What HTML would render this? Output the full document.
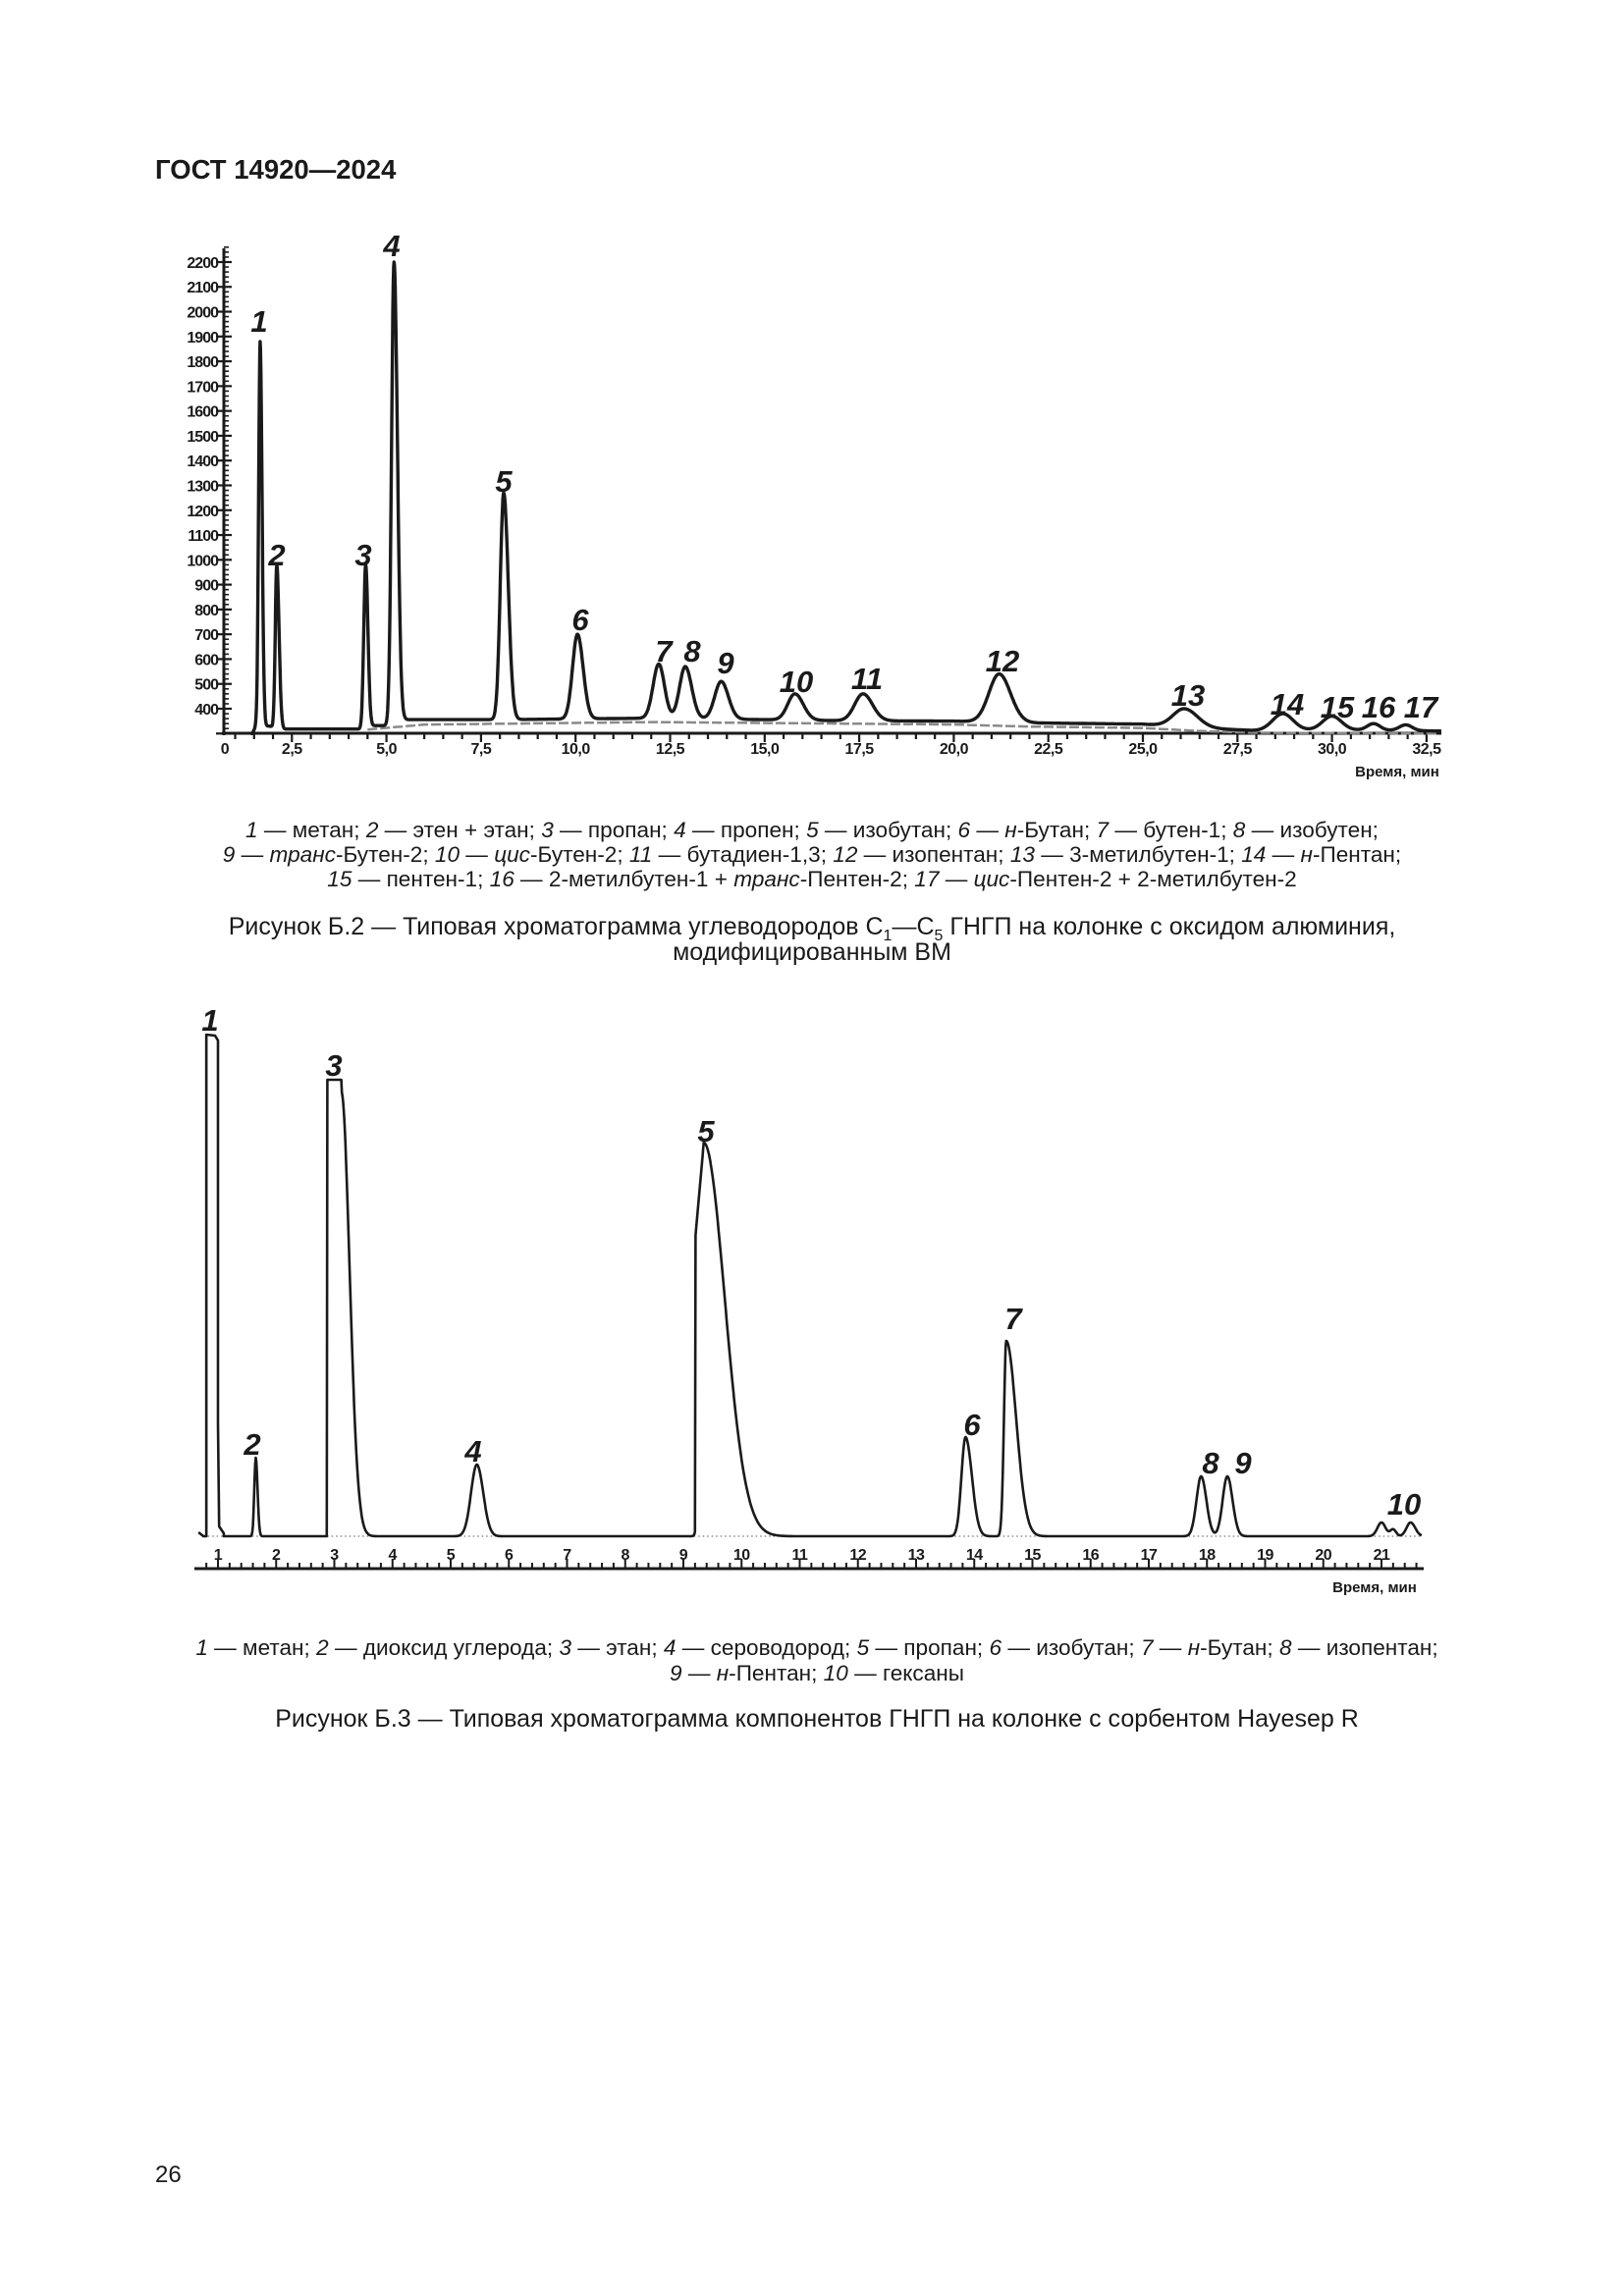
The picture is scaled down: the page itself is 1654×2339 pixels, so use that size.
<!DOCTYPE html>
<html><head><meta charset="utf-8">
<style>
html,body{margin:0;padding:0;background:#fff;}
svg{display:block;}
text{font-family:"Liberation Sans",sans-serif;fill:#1a1a1a;}
.cap{font-size:22.6px;}
.ttl{font-size:25px;}
.pk{font-size:31px;font-weight:bold;font-style:italic;text-anchor:middle;}
.yl{font-size:16px;font-weight:bold;text-anchor:end;letter-spacing:-1px;}
.xl{font-size:16px;font-weight:bold;text-anchor:middle;letter-spacing:-0.5px;}
</style></head>
<body>
<svg id="s" width="1654" height="2339" viewBox="0 0 1654 2339" xmlns="http://www.w3.org/2000/svg">
<text x="158" y="182" style="font-size:27.5px;font-weight:bold;">ГОСТ 14920—2024</text>

<g id="c1ax" stroke="#1a1a1a" fill="none"></g>
<path id="c1gray" fill="none" stroke="#8a8a8a" stroke-width="2.5" stroke-dasharray="10 3"/>
<path id="c1" fill="none" stroke="#1a1a1a" stroke-width="3.4" stroke-linejoin="round"/>
<g id="c1yl"></g>
<g id="c1xl"></g>
<text x="1423" y="791" style="font-size:15px;font-weight:bold;text-anchor:middle;">Время, мин</text>

<g class="pk">
<text x="264" y="338">1</text><text x="282" y="576">2</text><text x="370" y="576">3</text>
<text x="399" y="261">4</text><text x="513" y="501">5</text><text x="591" y="642">6</text>
<text x="676" y="674">7</text><text x="705" y="674">8</text><text x="739" y="686">9</text>
<text x="811" y="705">10</text><text x="883" y="702">11</text><text x="1021" y="684">12</text>
<text x="1210" y="719">13</text><text x="1311" y="728">14</text><text x="1362" y="731">15</text>
<text x="1404" y="731">16</text><text x="1447" y="731">17</text>
</g>

<text class="cap" x="827" y="853" text-anchor="middle"><tspan font-style="italic">1</tspan> — метан; <tspan font-style="italic">2</tspan> — этен + этан; <tspan font-style="italic">3</tspan> — пропан; <tspan font-style="italic">4</tspan> — пропен; <tspan font-style="italic">5</tspan> — изобутан; <tspan font-style="italic">6</tspan> — <tspan font-style="italic">н</tspan>-Бутан; <tspan font-style="italic">7</tspan> — бутен-1; <tspan font-style="italic">8</tspan> — изобутен;</text>
<text class="cap" x="827" y="878" text-anchor="middle"><tspan font-style="italic">9</tspan> — <tspan font-style="italic">транс</tspan>-Бутен-2; <tspan font-style="italic">10</tspan> — <tspan font-style="italic">цис</tspan>-Бутен-2; <tspan font-style="italic">11</tspan> — бутадиен-1,3; <tspan font-style="italic">12</tspan> — изопентан; <tspan font-style="italic">13</tspan> — 3-метилбутен-1; <tspan font-style="italic">14</tspan> — <tspan font-style="italic">н</tspan>-Пентан;</text>
<text class="cap" x="827" y="903" text-anchor="middle"><tspan font-style="italic">15</tspan> — пентен-1; <tspan font-style="italic">16</tspan> — 2-метилбутен-1 + <tspan font-style="italic">транс</tspan>-Пентен-2; <tspan font-style="italic">17</tspan> — <tspan font-style="italic">цис</tspan>-Пентен-2 + 2-метилбутен-2</text>
<text class="ttl" x="827" y="952" text-anchor="middle">Рисунок Б.2 — Типовая хроматограмма углеводородов С<tspan font-size="16" dy="6">1</tspan><tspan dy="-6">—С</tspan><tspan font-size="16" dy="6">5</tspan><tspan dy="-6"> ГНГП на колонке с оксидом алюминия,</tspan></text>
<text class="ttl" x="827" y="978" text-anchor="middle">модифицированным ВМ</text>

<g id="c2ax" stroke="#1a1a1a" fill="none"></g>
<path id="c2dots" fill="none" stroke="#777" stroke-width="1.2" stroke-dasharray="1.5 3"/>
<path id="c2" fill="none" stroke="#1a1a1a" stroke-width="2.6" stroke-linejoin="round"/>
<g id="c2xl"></g>
<text x="1400" y="1622" style="font-size:15px;font-weight:bold;text-anchor:middle;">Время, мин</text>
<g class="pk">
<text x="214" y="1050">1</text><text x="257" y="1482">2</text><text x="340" y="1096">3</text>
<text x="482" y="1489">4</text><text x="719" y="1163">5</text><text x="990" y="1462">6</text>
<text x="1032" y="1354">7</text><text x="1233" y="1501">8</text><text x="1266" y="1501">9</text>
<text x="1430" y="1543">10</text>
</g>

<text class="cap" x="832" y="1686" text-anchor="middle"><tspan font-style="italic">1</tspan> — метан; <tspan font-style="italic">2</tspan> — диоксид углерода; <tspan font-style="italic">3</tspan> — этан; <tspan font-style="italic">4</tspan> — сероводород; <tspan font-style="italic">5</tspan> — пропан; <tspan font-style="italic">6</tspan> — изобутан; <tspan font-style="italic">7</tspan> — <tspan font-style="italic">н</tspan>-Бутан; <tspan font-style="italic">8</tspan> — изопентан;</text>
<text class="cap" x="832" y="1712" text-anchor="middle"><tspan font-style="italic">9</tspan> — <tspan font-style="italic">н</tspan>-Пентан; <tspan font-style="italic">10</tspan> — гексаны</text>
<text class="ttl" x="832" y="1759" text-anchor="middle">Рисунок Б.3 — Типовая хроматограмма компонентов ГНГП на колонке с сорбентом Hayesep R</text>

<text x="158" y="2223" style="font-size:24px;">26</text>
</svg>
<script>
(function(){
var NS="http://www.w3.org/2000/svg";
function el(p,tag,attrs,txt){var e=document.createElementNS(NS,tag);for(var k in attrs)e.setAttribute(k,attrs[k]);if(txt!=null)e.textContent=txt;document.getElementById(p).appendChild(e);return e;}
function interp(pts,t){if(t<=pts[0][0])return pts[0][1];for(var i=1;i<pts.length;i++){if(t<=pts[i][0]){var a=pts[i-1],b=pts[i];return a[1]+(b[1]-a[1])*(t-a[0])/(b[0]-a[0]);}}return pts[pts.length-1][1];}
function ag(t,c,sl,sr){var s=t<c?sl:sr;var d=(t-c)/s;return Math.exp(-d*d/2);}
var X1=function(t){return 201+38.52*t;}, Y1=function(v){return 722-(v-400)*0.2528;};
el('c1ax','line',{x1:228,y1:253,x2:228,y2:749,'stroke-width':3});
el('c1ax','line',{x1:226,y1:747,x2:1468,y2:747,'stroke-width':3});
for(var v=300;v<=2260;v+=20){var y=Y1(v);var major=(v%100==0);el('c1ax','line',{x1:major?220:228,y1:y,x2:major?236:233,y2:y,'stroke-width':major?2.2:1.6});}
for(var v=400;v<=2200;v+=100){el('c1yl','text',{'class':'yl',x:222,y:Y1(v)+6},String(v));}
for(var t=1;t<=33;t+=0.5){var x=X1(t);if(x<230||x>1468)continue;var maj=(Math.abs(t/2.5-Math.round(t/2.5))<1e-6);el('c1ax','line',{x1:x,y1:747,x2:x,y2:maj?756:753,'stroke-width':2.2});}
el('c1xl','text',{'class':'xl',x:229,y:768},'0');
for(var k=1;k<=13;k++){var t=k*2.5;el('c1xl','text',{'class':'xl',x:X1(t),y:768},t.toFixed(1).replace('.',','));}
var base=[[1.45,300],[1.55,330],[1.9,330],[2.3,318],[4.3,318],[4.6,332],[5.0,332],[5.5,356],[8,356],[12,362],[14,358],[17,352],[20,350],[22,343],[25,338],[26.5,322],[28,312],[30,315],[32.9,310]];
var pk=[[1.66,1880,0.04,0.05],[2.1,980,0.04,0.06],[4.45,980,0.05,0.06],[5.2,2200,0.065,0.09],[8.1,1270,0.09,0.12],[10.05,700,0.13,0.15],[12.2,580,0.15,0.15],[12.9,570,0.15,0.17],[13.85,510,0.17,0.19],[15.8,460,0.19,0.22],[17.6,460,0.22,0.25],[21.2,540,0.27,0.3],[26.1,400,0.3,0.35],[28.7,380,0.27,0.27],[30.0,370,0.25,0.25],[31.1,340,0.17,0.17],[31.95,335,0.17,0.17]];
pk.forEach(function(p){p.push(p[1]-interp(base,p[0]));});
var d="M"+X1(1.4).toFixed(1)+","+747;
for(var t=1.45;t<=32.9;t+=0.01){var v=interp(base,t);pk.forEach(function(p){v+=p[4]*ag(t,p[0],p[2],p[3]);});d+=" L"+X1(t).toFixed(1)+","+Y1(v).toFixed(1);}
document.getElementById('c1').setAttribute('d',d);
var gb=[[4.5,328],[6,348],[12,358],[17,352],[20,348],[22,340],[25,334],[26.5,322],[28,315],[32.9,312]];
var g="";for(var t=4.5;t<=32.9;t+=0.1){g+=(g?" L":"M")+X1(t).toFixed(1)+","+(Y1(interp(gb,t))+3).toFixed(1);}
document.getElementById('c1gray').setAttribute('d',g);
var X2=function(t){return 222+59.25*(t-1);}, B=1565;
el('c2ax','line',{x1:198,y1:1598,x2:1450,y2:1598,'stroke-width':3});
for(var i=0;;i++){var t=0.6+i*0.2;var x=X2(t);if(x>1450)break;if(x<200)continue;var maj=Math.abs(t-Math.round(t))<1e-6;el('c2ax','line',{x1:x,y1:1598,x2:x,y2:maj?1588:1592,'stroke-width':2});}
for(var k=1;k<=21;k++){el('c2xl','text',{'class':'xl',x:X2(k),y:1589},String(k));}
document.getElementById('c2dots').setAttribute('d',"M"+X2(0.75)+","+B+" L"+X2(21.7)+","+B);
var p2=[[1.65,80,0.025,0.03],[5.45,73,0.1,0.11],[9.35,401,0.05,0.36],[13.85,101,0.07,0.11],[14.55,199,0.04,0.17],[17.9,61,0.08,0.09],[18.35,61,0.08,0.09],[21.0,14,0.07,0.07],[21.2,7,0.05,0.05],[21.5,14,0.07,0.08]];
var e="M"+(X2(0.75)-5)+","+(B-4)+" L"+X2(0.75)+","+B+" L"+X2(0.8)+","+B+" L"+X2(0.8)+",1054 L"+X2(0.95)+",1055 L"+X2(1.0)+",1060 L"+X2(1.0)+",1450 L"+X2(1.02)+",1555 L"+X2(1.1)+",1562";
for(var t=1.1;t<=21.7;t+=0.01){var h=0;
 if(t<2.87){h=0;}else if(t<3.12){h=(t<2.875)?0:465;}else{h=453*Math.exp(-Math.pow((t-3.12)/0.2,2));}
 if(t>=2.87&&t<2.875){e+=" L"+X2(2.87).toFixed(1)+","+B+" L"+X2(2.87).toFixed(1)+",1100";}
 p2.forEach(function(p){h+=p[1]*ag(t,p[0],p[2],p[3]);});
 if(t>9.15&&t<9.35){h=Math.max(h, t>9.2?300+(t-9.2)/0.15*101:0);}
 e+=" L"+X2(t).toFixed(1)+","+(B-h).toFixed(1);}
document.getElementById('c2').setAttribute('d',e);
})();
</script>
</body></html>
